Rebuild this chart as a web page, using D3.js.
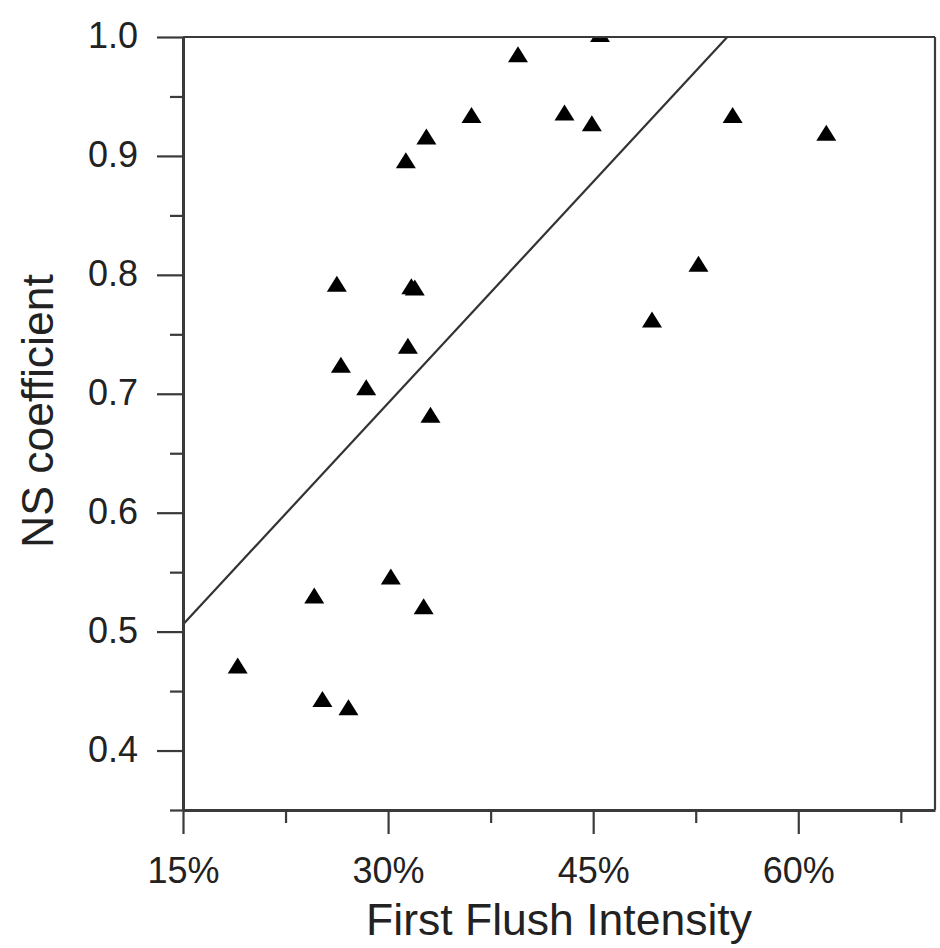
<!DOCTYPE html>
<html>
<head>
<meta charset="utf-8">
<script src="https://cdn.jsdelivr.net/npm/d3@7"></script>
<style>
  html, body { margin: 0; padding: 0; background: #fff; }
  svg { display: block; }
  text { font-family: "Liberation Sans", Arial, sans-serif; fill: #222; }
</style>
</head>
<body>
<svg id="chart" width="940" height="948"></svg>
<script>
// ---- data ----
const intensity = [19.0, 24.6, 25.2, 27.1, 30.2, 32.6, 26.25, 26.55, 28.4, 31.45, 31.7, 31.95, 33.1, 31.3, 32.8, 36.1, 39.5, 42.9, 44.9, 45.5, 49.3, 52.7, 55.2, 62.05];
const nsCoef    = [0.471, 0.530, 0.443, 0.436, 0.546, 0.521, 0.792, 0.724, 0.705, 0.740, 0.790, 0.789, 0.682, 0.896, 0.916, 0.934, 0.985, 0.936, 0.927, 1.002, 0.762, 0.809, 0.934, 0.919];
const fitIntercept = 0.3198;   // NS = a + b * intensity(%)
const fitSlope = 0.01241;
const xMajorTicks = [15, 30, 45, 60];
const xMinorTicks = [22.5, 37.5, 52.5, 67.5];
const yMajorTicks = [0.4, 0.5, 0.6, 0.7, 0.8, 0.9, 1.0];
const yMinorTicks = [0.35, 0.45, 0.55, 0.65, 0.75, 0.85, 0.95];
const xTitle = "First Flush Intensity";
const yTitle = "NS coefficient";

// ---- layout ----
const margin = { left: 183, top: 37, right: 5, bottom: 138 };
const W = 940, H = 948;
const x = d3.scaleLinear().domain([15, 70]).range([margin.left, W - margin.right]);
const y = d3.scaleLinear().domain([0.35, 1.0]).range([H - margin.bottom, margin.top]);

const svg = d3.select("#chart");
const axisColor = "#3a3a3a";

// clip for plot area
svg.append("defs").append("clipPath").attr("id", "plotClip")
  .append("rect")
  .attr("x", x(15)).attr("y", y(1.0))
  .attr("width", x(70) - x(15)).attr("height", y(0.35) - y(1.0));

// regression line (drawn up to the top of the frame)
const xEnd = (1.0 - fitIntercept) / fitSlope;
svg.append("line")
  .attr("x1", x(15)).attr("y1", y(fitIntercept + fitSlope * 15))
  .attr("x2", x(xEnd)).attr("y2", y(fitIntercept + fitSlope * xEnd))
  .attr("stroke", "#333").attr("stroke-width", 2.2);

// points (triangles)
const pts = intensity.map((v, i) => ({ x: v, y: nsCoef[i] }));
svg.append("g").attr("clip-path", "url(#plotClip)")
  .selectAll("path").data(pts).enter().append("path")
  .attr("d", d => {
    const cx = x(d.x), cy = y(d.y);
    return `M${cx},${cy - 8.5}L${cx + 10},${cy + 7.5}L${cx - 10},${cy + 7.5}Z`;
  })
  .attr("fill", "#000");

// frame
const x0 = x(15), x1 = x(70), y0 = y(0.35), y1 = y(1.0);
svg.append("line").attr("x1", x0).attr("x2", x1).attr("y1", y1).attr("y2", y1)
  .attr("stroke", axisColor).attr("stroke-width", 2.2);
svg.append("line").attr("x1", x1).attr("x2", x1).attr("y1", y1).attr("y2", y0)
  .attr("stroke", axisColor).attr("stroke-width", 2.2);

// bottom axis
const gx = svg.append("g").attr("transform", `translate(0,${y0})`);
gx.call(d3.axisBottom(x).tickValues(xMajorTicks).tickSize(24).tickSizeOuter(0)
  .tickFormat(d => d + "%"));
gx.append("g").call(d3.axisBottom(x).tickValues(xMinorTicks).tickSize(13).tickFormat(""))
  .select(".domain").remove();
gx.selectAll(".domain").attr("stroke", axisColor).attr("stroke-width", 3);
gx.selectAll(".tick line").attr("stroke", axisColor).attr("stroke-width", 2.2);
gx.selectAll(".tick text").attr("font-size", 36).attr("dy", 0).attr("y", 73)
  .attr("fill", "#222").style("font-family", "'Liberation Sans', Arial, sans-serif");

// left axis
const gy = svg.append("g").attr("transform", `translate(${x0},0)`);
gy.call(d3.axisLeft(y).tickValues(yMajorTicks).tickSize(26).tickSizeOuter(0)
  .tickFormat(d3.format(".1f")));
gy.append("g").call(d3.axisLeft(y).tickValues(yMinorTicks).tickSize(13).tickFormat(""))
  .select(".domain").remove();
gy.selectAll(".domain").attr("stroke", axisColor).attr("stroke-width", 3);
gy.selectAll(".tick line").attr("stroke", axisColor).attr("stroke-width", 2.2);
gy.selectAll(".tick text").attr("font-size", 36).attr("x", -45).attr("dy", "0.3em")
  .attr("fill", "#222").style("font-family", "'Liberation Sans', Arial, sans-serif");

// axis titles
svg.append("text")
  .attr("x", (x0 + x1) / 2).attr("y", 935)
  .attr("text-anchor", "middle").attr("font-size", 44.5)
  .text(xTitle);
svg.append("text")
  .attr("transform", `translate(53,${411}) rotate(-90)`)
  .attr("text-anchor", "middle").attr("font-size", 44.5)
  .text(yTitle);
</script>
</body>
</html>
